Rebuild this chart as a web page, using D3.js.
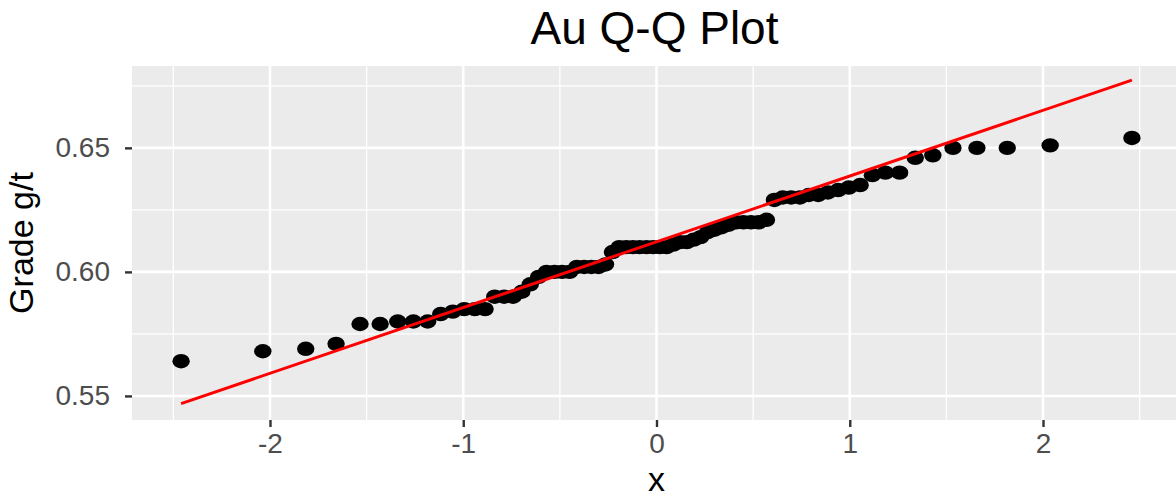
<!DOCTYPE html>
<html>
<head>
<meta charset="utf-8">
<script src="https://cdn.jsdelivr.net/npm/d3@7"></script>
<style>
  body { margin: 0; background: #fff; }
  svg { display: block; font-family: "Liberation Sans", Arial, Helvetica, sans-serif; }
</style>
</head>
<body>
<svg id="chart"></svg>
<script>
// theoretical normal quantiles (x) and sorted sample grades (y)
let theoretical = [-2.46, -2.037, -1.815, -1.658, -1.534, -1.430, -1.339, -1.258, -1.184, -1.117,
  -1.054, -0.995, -0.940, -0.887, -0.837, -0.788, -0.742, -0.697, -0.653, -0.610,
  -0.569, -0.528, -0.489, -0.450, -0.412, -0.374, -0.337, -0.300, -0.264, -0.228,
  -0.193, -0.157, -0.122, -0.087, -0.052, -0.017, 0.017, 0.052, 0.087, 0.122,
  0.157, 0.193, 0.228, 0.264, 0.300, 0.337, 0.374, 0.412, 0.450, 0.489,
  0.528, 0.569, 0.610, 0.653, 0.697, 0.742, 0.788, 0.837, 0.887, 0.940,
  0.995, 1.054, 1.117, 1.184, 1.258, 1.339, 1.430, 1.534, 1.658, 1.815,
  2.037, 2.46]
let grade = [0.564, 0.568, 0.569, 0.571, 0.579, 0.579, 0.580, 0.580, 0.580, 0.583,
  0.584, 0.585, 0.585, 0.585, 0.590, 0.590, 0.590, 0.592, 0.595, 0.598,
  0.600, 0.600, 0.600, 0.600, 0.602, 0.602, 0.602, 0.602, 0.603, 0.608,
  0.610, 0.610, 0.610, 0.610, 0.610, 0.610, 0.610, 0.610, 0.611, 0.612,
  0.612, 0.613, 0.614, 0.616, 0.617, 0.618, 0.619, 0.620, 0.620, 0.620,
  0.620, 0.621, 0.629, 0.630, 0.630, 0.630, 0.631, 0.631, 0.632, 0.633,
  0.634, 0.635, 0.639, 0.640, 0.640, 0.646, 0.647, 0.650, 0.650, 0.650,
  0.651, 0.654]

let xTicks = [-2, -1, 0, 1, 2]
let xMinor = [-2.5, -1.5, -0.5, 0.5, 1.5, 2.5]
let yTicks = [0.55, 0.60, 0.65]
let yMinor = [0.575, 0.625, 0.675]
let xDomain = [-2.714, 2.714]
let yDomain = [0.5403, 0.683]

let width = 1176
let height = 497
let panel = {left: 132, right: 1181, top: 66, bottom: 420}

let svg = d3.select('#chart').attr('width', width).attr('height', height)

let data = theoretical.map((q, i) => [q, grade[i]])

let xScale = d3.scaleLinear().domain(xDomain).range([panel.left, panel.right])
let yScale = d3.scaleLinear().domain(yDomain).range([panel.bottom, panel.top])

// panel background
svg.append('rect')
   .attr('x', panel.left)
   .attr('y', panel.top)
   .attr('width', panel.right - panel.left)
   .attr('height', panel.bottom - panel.top)
   .attr('fill', '#EBEBEB')

let grid = svg.append('g')

grid.selectAll('.xminor').data(xMinor).enter().append('line')
    .attr('x1', d => xScale(d)).attr('x2', d => xScale(d))
    .attr('y1', panel.top).attr('y2', panel.bottom)
    .attr('stroke', '#fff').attr('stroke-width', 1.3)

grid.selectAll('.yminor').data(yMinor).enter().append('line')
    .attr('y1', d => yScale(d)).attr('y2', d => yScale(d))
    .attr('x1', panel.left).attr('x2', panel.right)
    .attr('stroke', '#fff').attr('stroke-width', 1.3)

grid.selectAll('.xmajor').data(xTicks).enter().append('line')
    .attr('x1', d => xScale(d)).attr('x2', d => xScale(d))
    .attr('y1', panel.top).attr('y2', panel.bottom)
    .attr('stroke', '#fff').attr('stroke-width', 2.6)

grid.selectAll('.ymajor').data(yTicks).enter().append('line')
    .attr('y1', d => yScale(d)).attr('y2', d => yScale(d))
    .attr('x1', panel.left).attr('x2', panel.right)
    .attr('stroke', '#fff').attr('stroke-width', 2.6)

// points
svg.append('g')
   .selectAll('ellipse')
   .data(data)
   .enter()
   .append('ellipse')
   .attr('cx', d => xScale(d[0]))
   .attr('cy', d => yScale(d[1]))
   .attr('rx', 8.7)
   .attr('ry', 7.2)
   .attr('fill', '#000')

// reference line through the quartiles (like stat_qq_line)
let sorted = grade.slice().sort(d3.ascending)
let q1 = d3.quantile(sorted, 0.25)
let q3 = d3.quantile(sorted, 0.75)
let slope = (q3 - q1) / (2 * 0.6744898)
let intercept = (q1 + q3) / 2
let xEnds = d3.extent(theoretical)

svg.append('line')
   .attr('x1', xScale(xEnds[0]))
   .attr('y1', yScale(intercept + slope * xEnds[0]))
   .attr('x2', xScale(xEnds[1]))
   .attr('y2', yScale(intercept + slope * xEnds[1]))
   .attr('stroke', '#FF0000')
   .attr('stroke-width', 3)

// axes
let xAxis = d3.axisBottom(xScale).tickValues(xTicks).tickSize(7).tickPadding(6).tickFormat(d3.format('d'))
let yAxis = d3.axisLeft(yScale).tickValues(yTicks).tickSize(7).tickPadding(15).tickFormat(d3.format('.2f'))

let gx = svg.append('g')
   .attr('transform', 'translate(0,' + panel.bottom + ')')
   .call(xAxis)

let gy = svg.append('g')
   .attr('transform', 'translate(' + panel.left + ',0)')
   .call(yAxis)

for (let g of [gx, gy]) {
    g.select('.domain').remove()
    g.selectAll('.tick line').attr('stroke', '#333333').attr('stroke-width', 2.4)
    g.selectAll('.tick text')
     .attr('fill', '#4D4D4D')
     .style('font-size', '28px')
     .style('font-family', '"Liberation Sans", Arial, Helvetica, sans-serif')
}
gx.selectAll('.tick text').text(d => d < 0 ? '-' + Math.abs(d) : d)

// titles
svg.append('text')
   .attr('x', (panel.left + panel.right) / 2 - 2)
   .attr('y', 44)
   .attr('text-anchor', 'middle')
   .style('font-size', '46px')
   .text('Au Q-Q Plot')

svg.append('text')
   .attr('x', xScale(0))
   .attr('y', 491)
   .attr('text-anchor', 'middle')
   .style('font-size', '34px')
   .text('x')

svg.append('text')
   .attr('transform', 'translate(33,' + (panel.top + panel.bottom) / 2 + ') rotate(-90)')
   .attr('text-anchor', 'middle')
   .style('font-size', '34px')
   .text('Grade g/t')
</script>
</body>
</html>
